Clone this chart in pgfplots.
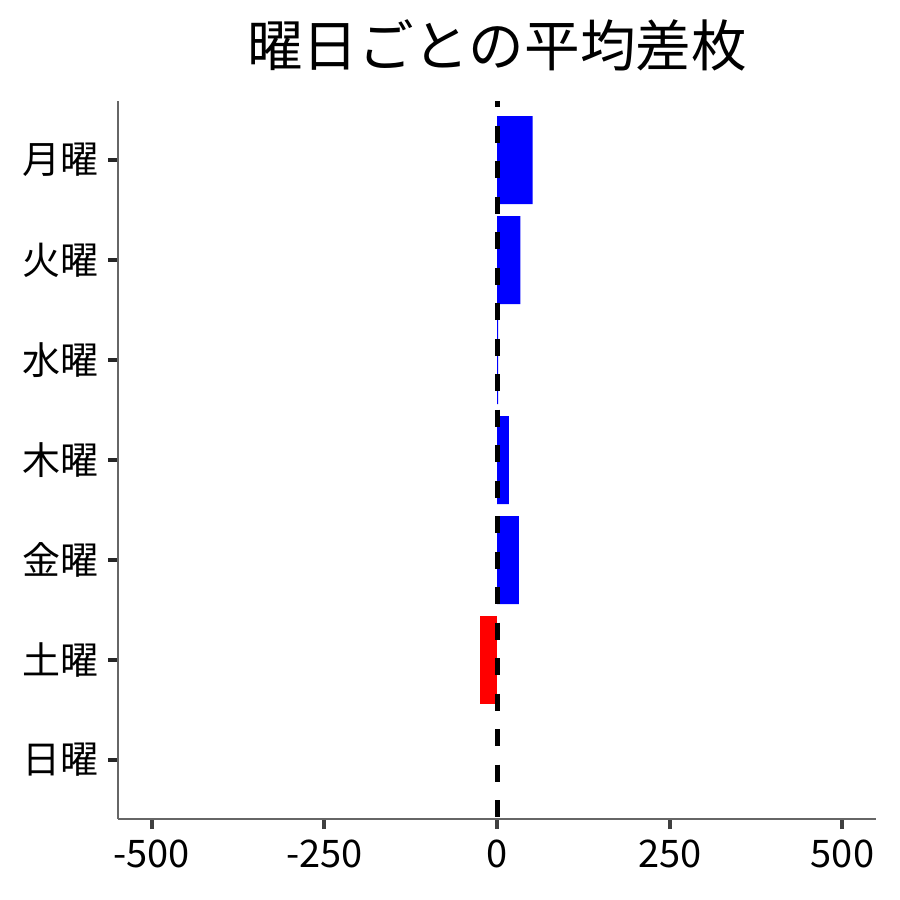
\documentclass[border=0pt]{standalone}
\usepackage{fontspec}
\setmainfont{Noto Sans CJK JP}
\usepackage{pgfplots}
\pgfplotsset{compat=1.18}
\begin{document}
\begin{tikzpicture}
\path[use as bounding box] (0,0) rectangle (450pt,450pt);
\begin{axis}[
  at={(59pt,40.5pt)}, anchor=south west,
  scale only axis, width=379pt, height=359pt,
  xmin=-548.5, xmax=548.5,
  ymin=-0.59, ymax=6.59, y dir=reverse,
  axis x line*=bottom, axis y line*=left,
  axis line style={color=black!60, line width=0.75pt, -},
  xtick={-500,-250,0,250,500},
  xticklabels={-500,-250,0,250,500},
  ytick={0,1,2,3,4,5,6},
  yticklabels={月曜,火曜,水曜,木曜,金曜,土曜,日曜},
  tick align=outside,
  major tick length=5pt,
  x tick style={color=black!75, line width=2pt},
  y tick style={color=black!85, line width=1.75pt},
  ticklabel style={font=\fontsize{19}{19}\selectfont, text=black},
  xticklabel style={yshift=-2pt},
  yticklabel style={xshift=-1pt},
  clip=false,
]
\addplot[xbar, bar width=0.88, bar shift=0, fill=blue, draw=none] coordinates {(51.5,0) (34,1) (1.5,2) (17,3) (31.5,4)};
\addplot[xbar, bar width=0.88, bar shift=0, fill=red, draw=none] coordinates {(-24.6,5)};
\addplot[sharp plot, no marks, black, line width=2.5pt, dash pattern=on 8.5pt off 9.25pt, dash phase=5.5pt, forget plot] coordinates {(0,-0.59) (0,6.59)};
\end{axis}
\node[anchor=center, font=\fontsize{27.8}{27.8}\selectfont] at (248.5pt,427.5pt) {曜日ごとの平均差枚};
\end{tikzpicture}
\end{document}
